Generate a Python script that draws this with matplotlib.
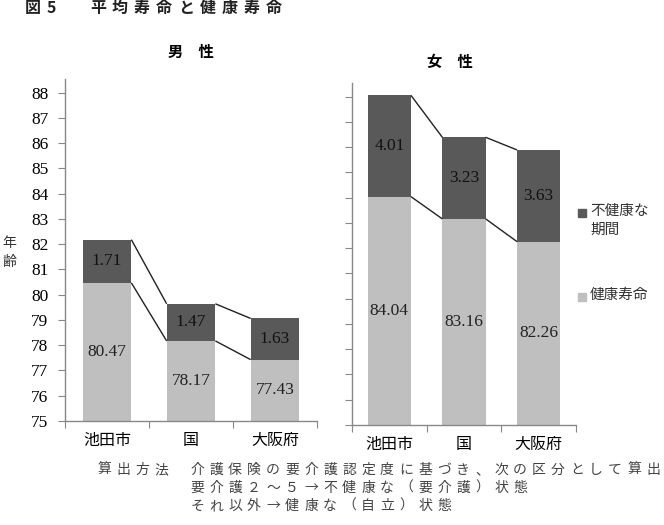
import matplotlib
matplotlib.use("Agg")
import matplotlib.pyplot as plt
from matplotlib.patches import Rectangle

plt.rcParams['font.family'] = ['Noto Sans CJK JP', 'DejaVu Sans']

# data
categories = ['池田市', '国', '大阪府']
male_healthy = [80.47, 78.17, 77.43]
male_unhealthy = [1.71, 1.47, 1.63]
female_healthy = [84.04, 83.16, 82.26]
female_unhealthy = [4.01, 3.23, 3.63]
yticks = list(range(75, 89))

DARK = '#595959'
LIGHT = '#bfbfbf'
W, H = 664, 525
BAR_W = 0.58
NUM_FONT = 'Liberation Serif'


def px_axes(fig, x0, x1, ytop, ybot):
    return fig.add_axes([x0 / W, (H - ybot) / H, (x1 - x0) / W, (ybot - ytop) / H])


def spaced_text(fig, x0, ypx, s, pitch, **kw):
    # place each character on a fixed pitch (wide letter spacing)
    for i, ch in enumerate(s):
        fig.text((x0 + i * pitch) / W, 1 - ypx / H, ch, ha='center', va='center', **kw)


def draw_panel(ax, healthy, unhealthy, show_labels):
    x = list(range(len(categories)))
    ax.bar(x, healthy, width=BAR_W, color=LIGHT, bottom=0)
    ax.bar(x, unhealthy, width=BAR_W, color=DARK, bottom=healthy)
    totals = [h + u for h, u in zip(healthy, unhealthy)]
    # connector lines between bars
    for i in range(len(x) - 1):
        for vals in (healthy, totals):
            ax.plot([x[i] + BAR_W / 2, x[i + 1] - BAR_W / 2], [vals[i], vals[i + 1]],
                    color='#222222', lw=1.0, solid_capstyle='butt')
    ymin = 75
    for i in x:
        ax.text(i, (ymin + healthy[i]) / 2, f'{healthy[i]:.2f}', ha='center', va='center',
                fontsize=12.5, family=NUM_FONT, color='#222222')
        ax.text(i, healthy[i] + unhealthy[i] / 2, f'{unhealthy[i]:.2f}', ha='center', va='center',
                fontsize=12.5, family=NUM_FONT, color='#111111')
    ax.set_ylim(75, 88.54)
    ax.set_xlim(-0.5, 2.5)
    ax.set_yticks(yticks)
    if show_labels:
        ax.set_yticklabels([str(t) for t in yticks], family=NUM_FONT, fontsize=12.5)
    else:
        ax.set_yticklabels([])
    ax.set_xticks([-0.5, 0.5, 1.5, 2.5])
    ax.set_xticklabels([])
    ax.set_xticks(x, minor=True)
    ax.set_xticklabels(categories, minor=True, fontsize=11.5)
    ax.tick_params(axis='x', which='minor', length=0, pad=8)
    ax.tick_params(axis='x', which='major', length=5, color='#888888', direction='out')
    ax.tick_params(axis='y', length=5, color='#888888', pad=7)
    for s in ('top', 'right'):
        ax.spines[s].set_visible(False)
    for s in ('left', 'bottom'):
        ax.spines[s].set_color('#888888')
        ax.spines[s].set_linewidth(1.0)


fig = plt.figure(figsize=(W / 100, H / 100), dpi=100)

ax1 = px_axes(fig, 65, 317, 79, 421)
draw_panel(ax1, male_healthy, male_unhealthy, True)

ax2 = px_axes(fig, 352, 576, 83, 425)
draw_panel(ax2, female_healthy, female_unhealthy, False)

# titles
title_kw = dict(fontsize=11.5, fontweight='bold', color='#222222')
spaced_text(fig, 33, 8, '図', 0, **title_kw)
spaced_text(fig, 51, 8, '5', 0, **title_kw)
spaced_text(fig, 98, 8, '平均寿命と健康寿命', 22, **title_kw)
fig.text(191 / W, 1 - 52 / H, '男　性', fontsize=11, fontweight='bold', ha='center', va='center')
fig.text(450 / W, 1 - 62 / H, '女　性', fontsize=11, fontweight='bold', ha='center', va='center')

# y label
fig.text(9 / W, 1 - 243 / H, '年', fontsize=10, ha='center', va='center', color='#333333')
fig.text(9 / W, 1 - 262 / H, '齢', fontsize=10, ha='center', va='center', color='#333333')

# legend
for ypx, col, lab in ((213, DARK, '不健康な\n期間'), (297, LIGHT, '健康寿命')):
    fig.add_artist(Rectangle(((582 - 4) / W, 1 - (ypx + 4) / H), 8 / W, 8 / H,
                             transform=fig.transFigure, color=col))
    fig.text(590 / W, 1 - (ypx - 9) / H, lab, fontsize=10.5, ha='left', va='top',
             linespacing=1.4, color='#333333')

# footnote
note_kw = dict(fontsize=10, color='#444444')
spaced_text(fig, 104, 470, '算出方法', 19, **note_kw)
lines = ['介護保険の要介護認定度に基づき、次の区分として算出',
         '要介護２～５→不健康な（要介護）状態',
         'それ以外→健康な（自立）状態']
for ypx, line in zip((470, 488, 506), lines):
    spaced_text(fig, 197, ypx, line, 19, **note_kw)

fig.savefig('out.png', dpi=100)
